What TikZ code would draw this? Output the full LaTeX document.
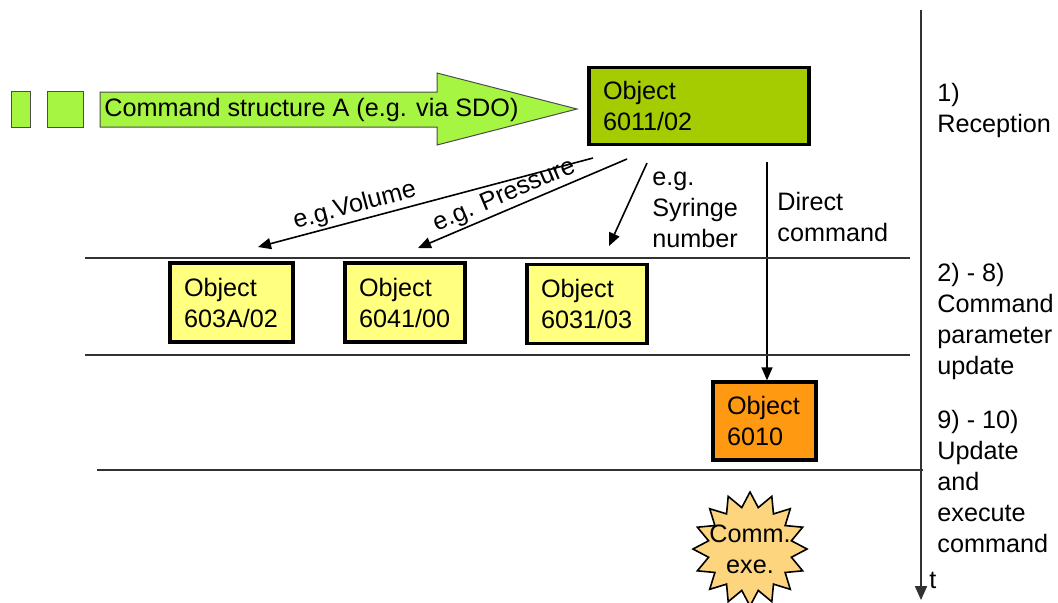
\documentclass[tikz,border=0pt]{standalone}
\usepackage{fontspec}
\setmainfont{Liberation Sans}
\usetikzlibrary{shapes.geometric,arrows.meta}

\definecolor{cmdgreen}{RGB}{166,245,66}
\definecolor{objgreen}{RGB}{165,204,0}
\definecolor{objyellow}{RGB}{255,255,128}
\definecolor{objorange}{RGB}{255,153,18}
\definecolor{burstfill}{RGB}{253,213,127}
\definecolor{linegray}{RGB}{50,50,50}

\begin{document}
\begin{tikzpicture}[x=0.5pt,y=-0.5pt,
    every node/.style={font=\fontsize{12.6pt}{15.5pt}\selectfont},
    objbox/.style={draw, line width=1.7pt, align=left, inner xsep=7pt, inner ysep=0pt},
    steptext/.style={align=left, anchor=west, inner sep=0pt},
    cmdarrow/.style={line width=0.8pt, {Triangle[length=6.5pt,width=5.5pt]}-},
    sepline/.style={linegray, line width=0.75pt}]
  \useasboundingbox (0,0) rectangle (1058,602);

  % command structure arrow
  \fill [cmdgreen, draw=black!70, line width=0.5pt] (11,91) rectangle (30,127);
  \fill [cmdgreen, draw=black!70, line width=0.5pt] (47,91) rectangle (83,127);
  \fill [cmdgreen, draw=black!70, line width=0.5pt]
    (100,92) -- (437,92) -- (437,73) -- (577,109) -- (437,145) -- (437,127) -- (100,127) -- cycle;
  \node [anchor=west, inner sep=0pt] (cmdtext) at (104,110) {Command structure A (e.g. via SDO)};

  % objects
  \node [objbox, fill=objgreen, text width=96pt, minimum height=38.5pt] (o6011) at (699,106) {Object\\6011/02};
  \node [objbox, fill=objyellow, text width=47.5pt, minimum height=39.5pt] (o603A) at (231.5,302.5) {Object\\603A/02};
  \node [objbox, fill=objyellow, text width=46pt, minimum height=39.5pt] (o6041) at (405,302.5) {Object\\6041/00};
  \node [objbox, fill=objyellow, text width=46pt, minimum height=39.5pt] (o6031) at (587,304) {Object\\6031/03};
  \node [objbox, fill=objorange, text width=37.5pt, minimum height=39pt] (o6010) at (764.5,421) {Object\\6010};

  \node [star, star points=16, star point ratio=1.35, draw, fill=burstfill, line width=0.8pt,
    minimum size=57pt, inner sep=0pt,
    label={[align=center, inner sep=0pt]center:Comm.\\exe.}] (exec) at (750,549) {};

  % parameter arrows
  \coordinate (volstart) at (593,158);
  \coordinate (volend) at (258,247);
  \coordinate (presstart) at (627,159);
  \coordinate (presend) at (418,248);
  \coordinate (syrstart) at (647,163);
  \coordinate (syrend) at (609,246);
  \coordinate (dirstart) at (767,162);

  \draw [cmdarrow] (volend) -- node [pos=0.3, above, sloped, inner sep=1pt] {e.g.Volume} (volstart);
  \draw [cmdarrow] (presend) -- node [pos=0.44, above, sloped, inner sep=1pt] {e.g. Pressure} (presstart);
  \draw [cmdarrow] (syrend) -- (syrstart);
  \draw [cmdarrow] (dirstart |- o6010.north) -- (dirstart);

  \node [steptext] (syrtext) at (652,210) {e.g.\\Syringe\\number};
  \node [steptext] (dirtext) at (777,217) {Direct\\command};

  % phase lines and time axis
  \draw [sepline] (85,258) -- (910,258);
  \draw [sepline] (85,355) -- (910,355);
  \draw [sepline] (97,470) -- (923,470);

  \coordinate (ttop) at (921,10);
  \coordinate (tbot) at (921,600);
  \draw [linegray, line width=1pt, -{Triangle[length=7pt,width=6pt]}] (ttop) -- (tbot);
  \node [anchor=west, inner sep=0pt] (tlabel) at (929,580) {t};

  \node [steptext] (phase1) at (937,110) {1)\\Reception};
  \node [steptext] (phase2) at (937,321) {2) - 8)\\Command\\parameter\\update};
  \node [steptext] (phase3) at (937,481) {9) - 10)\\Update\\and\\execute\\command};
\end{tikzpicture}
\end{document}
